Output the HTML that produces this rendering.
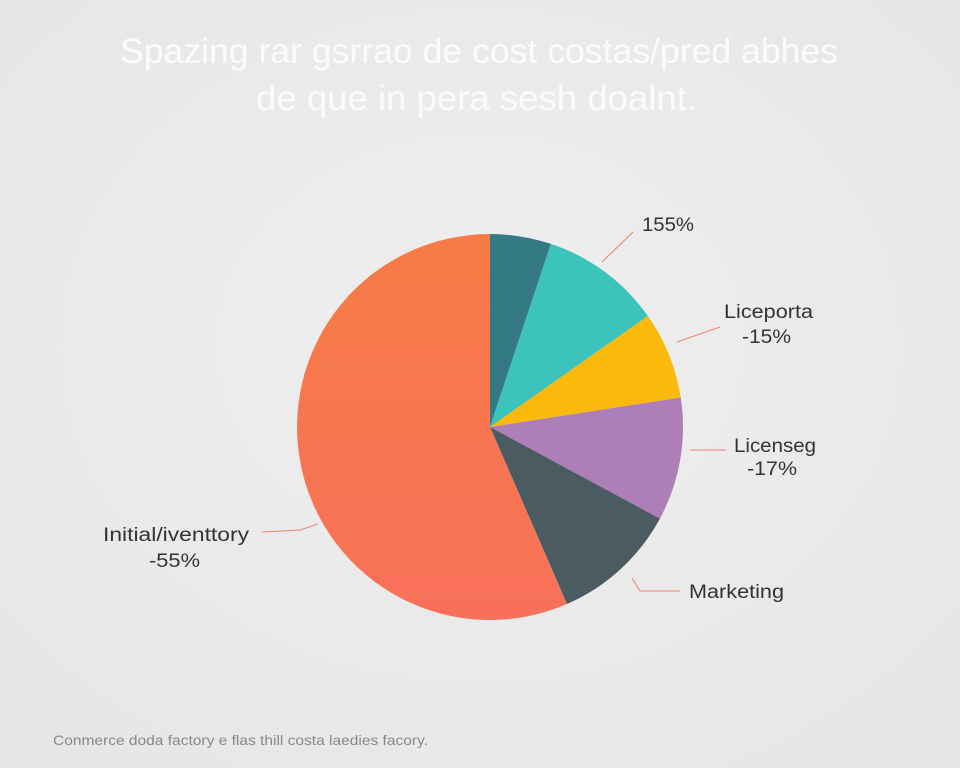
<!DOCTYPE html>
<html><head><meta charset="utf-8"><style>
html,body{margin:0;padding:0;width:960px;height:768px;background:#ebebeb;overflow:hidden;font-family:"Liberation Sans",sans-serif}
</style></head><body>
<svg width="960" height="768" viewBox="0 0 960 768" xmlns="http://www.w3.org/2000/svg">
<defs>
<radialGradient id="bg" cx="50%" cy="45%" r="70%"><stop offset="0" stop-color="#efefef"/><stop offset="1" stop-color="#e6e6e6"/></radialGradient>
<linearGradient id="og" x1="0" y1="0" x2="0" y2="1"><stop offset="0" stop-color="#f67c46"/><stop offset="1" stop-color="#f8705a"/></linearGradient>
</defs>
<rect width="960" height="768" fill="url(#bg)"/>
<g font-size="35" fill="#fbfbfb">
<text x="120" y="63" textLength="718" lengthAdjust="spacingAndGlyphs">Spazing rar gsrrao de cost costas/pred abhes</text>
<text x="256" y="110" textLength="441" lengthAdjust="spacingAndGlyphs">de que in pera sesh doalnt.</text>
</g>
<g transform="translate(490,427)">
<path d="M0,0 L0,-193 A193,193 0 0 1 60.9,-183.1 Z" fill="#337a85"/>
<path d="M0,0 L60.9,-183.1 A193,193 0 0 1 157.9,-111 Z" fill="#3cc3bc"/>
<path d="M0,0 L157.9,-111 A193,193 0 0 1 190.7,-29.5 Z" fill="#fbb90b"/>
<path d="M0,0 L190.7,-29.5 A193,193 0 0 1 169.9,91.6 Z" fill="#ad7eb8"/>
<path d="M0,0 L169.9,91.6 A193,193 0 0 1 77,177 Z" fill="#4a5b61"/>
<path d="M0,0 L77,177 A193,193 0 1 1 0,-193 Z" fill="url(#og)"/>
</g>
<g stroke="#f08070" stroke-width="1" fill="none">
<polyline points="602,262 633,232"/>
<polyline points="677,342 720,327"/>
<polyline points="690,450 726,450"/>
<polyline points="632,578 640,591 680,591"/>
<polyline points="262,532 300,530 318,524"/>
</g>
<g font-size="19" fill="#333" lengthAdjust="spacingAndGlyphs">
<text x="642" y="231" textLength="52" lengthAdjust="spacingAndGlyphs">155%</text>
<text x="724" y="318" textLength="89" lengthAdjust="spacingAndGlyphs">Liceporta</text>
<text x="742" y="343" textLength="49" lengthAdjust="spacingAndGlyphs">-15%</text>
<text x="734" y="452" textLength="82" lengthAdjust="spacingAndGlyphs">Licenseg</text>
<text x="747" y="475" textLength="50" lengthAdjust="spacingAndGlyphs">-17%</text>
<text x="689" y="598" textLength="95" lengthAdjust="spacingAndGlyphs">Marketing</text>
<text x="103" y="541" textLength="146" lengthAdjust="spacingAndGlyphs">Initial/iventtory</text>
<text x="149" y="567" textLength="51" lengthAdjust="spacingAndGlyphs">-55%</text>
</g>
<text x="53" y="745" font-size="14" fill="#888" textLength="375" lengthAdjust="spacingAndGlyphs">Conmerce doda factory e flas thill costa laedies facory.</text>
</svg>
</body></html>
